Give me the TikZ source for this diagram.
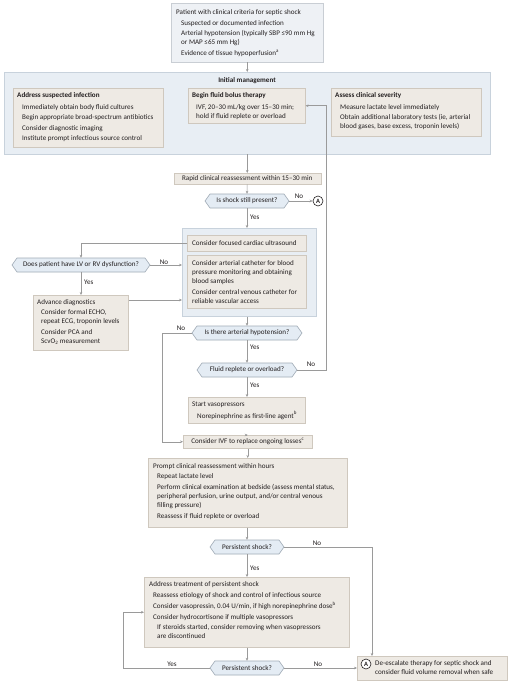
\documentclass[tikz,border=0pt]{standalone}
\usepackage{fontspec}
\setmainfont{Carlito}
\usetikzlibrary{arrows.meta,calc}
\definecolor{lineg}{HTML}{9A9A9A}
\definecolor{beige}{HTML}{EEEAE4}
\definecolor{beigeb}{HTML}{CFC8BE}
\definecolor{bluebg}{HTML}{E8EEF4}
\definecolor{blueb}{HTML}{C8D2DC}
\definecolor{topbg}{HTML}{EEF1F5}
\definecolor{topb}{HTML}{C9CED4}
\definecolor{hexbg}{HTML}{E4ECF4}
\definecolor{hexb}{HTML}{A0ABB6}
\definecolor{txtc}{HTML}{231F20}
\newcommand\fs{\fontsize{7.1}{9.2}\selectfont}
\tikzset{
  bx/.style={draw=beigeb, fill=beige, line width=0.5pt, rectangle, inner sep=0pt, anchor=north west, font=\fs, text=txtc},
  topbox/.style={bx, draw=topb, fill=topbg},
  bluebox/.style={bx, draw=blueb, fill=bluebg},
  txt/.style={anchor=north west, inner sep=0pt, align=left, font=\fs, text=txtc},
  conn/.style={draw=lineg, line width=0.5pt},
  arr/.style={conn, -{Stealth[length=3pt,width=2.6pt]}},
  lbl/.style={font=\fs, text=txtc, inner sep=0pt},
  hexs/.style={draw=hexb, fill=hexbg, line width=0.6pt},
  hexn/.style={inner sep=0pt, minimum height=14pt, font=\fs, text=txtc},
  circ/.style={circle, draw=txtc, fill=white, line width=0.6pt, inner sep=0pt, minimum size=10pt, font=\fontsize{6.5}{7}\selectfont\bfseries, text=txtc}
}
\newcommand\hexa[5]{%
  \path[hexs] ({#2-#4/2},#3) -- ({#2-#4/2+5},{#3-7}) -- ({#2+#4/2-5},{#3-7}) -- ({#2+#4/2},#3) -- ({#2+#4/2-5},{#3+7}) -- ({#2-#4/2+5},{#3+7}) -- cycle;
  \node[hexn, minimum width={#4-10}] (#1) at (#2,#3) {#5};
  \coordinate (#1W) at ({#2-#4/2},#3);
  \coordinate (#1E) at ({#2+#4/2},#3);
}
\begin{document}
\begin{tikzpicture}[x=1pt,y=-1pt]
\useasboundingbox[fill=white] (0,0) rectangle (512,687);

% top box
\node[topbox, minimum width=152pt, minimum height=59pt] (top) at (171,3) {};
\node[txt] (toptx) at (176,9.5) {Patient with clinical criteria for septic shock\\[1.3pt]
\hspace*{5pt}Suspected or documented infection\\[1.3pt]
\hspace*{5pt}Arterial hypotension (typically SBP ≤90 mm Hg\\
\hspace*{5pt}or MAP ≤65 mm Hg)\\[1.3pt]
\hspace*{5pt}Evidence of tissue hypoperfusion\textsuperscript{a}};

% initial management
\node[bluebox, minimum width=486pt, minimum height=82pt] (init) at (4,72) {};
\node[lbl, font=\fs\bfseries] (inittl) at (247,81) {Initial management};
\node[bx, minimum width=150pt, minimum height=59pt] (inf) at (13,88) {};
\node[txt] (inftx) at (17,92.5) {\textbf{Address suspected infection}\\[2.5pt]
\hspace*{5pt}Immediately obtain body fluid cultures\\[1.2pt]
\hspace*{5pt}Begin appropriate broad-spectrum antibiotics\\[1.2pt]
\hspace*{5pt}Consider diagnostic imaging\\[1.2pt]
\hspace*{5pt}Institute prompt infectious source control};
\node[bx, minimum width=117pt, minimum height=35pt] (flu) at (188,88) {};
\node[txt] (flutx) at (192,92.5) {\textbf{Begin fluid bolus therapy}\\[2.5pt]
\hspace*{4pt}IVF, 20--30 mL/kg over 15--30 min;\\
\hspace*{4pt}hold if fluid replete or overload};
\node[bx, minimum width=150pt, minimum height=48pt] (sev) at (331,88) {};
\node[txt] (sevtx) at (335,92.5) {\textbf{Assess clinical severity}\\[2.5pt]
\hspace*{5pt}Measure lactate level immediately\\[1.2pt]
\hspace*{5pt}Obtain additional laboratory tests (ie, arterial\\
\hspace*{5pt}blood gases, base excess, troponin levels)};

% rapid
\node[bx, minimum width=147pt, minimum height=11pt] (rap) at (173.5,173) {Rapid clinical reassessment within 15--30 min};
\hexa{h1}{247}{201}{84}{Is shock still present?}
\node[circ] (A1) at (318,201) {A};

% cardiac group
\node[bluebox, minimum width=134pt, minimum height=88pt] (cardg) at (182,228) {};
\node[bx, minimum width=119pt, minimum height=16pt] (cus) at (187,235) {};
\node[txt] (custx) at (192,240) {Consider focused cardiac ultrasound};
\node[bx, minimum width=119pt, minimum height=53pt] (cath) at (187,255) {};
\node[txt] (cathtx) at (192,260) {Consider arterial catheter for blood\\
pressure monitoring and obtaining\\
blood samples\\[1.6pt]
Consider central venous catheter for\\
reliable vascular access};

\hexa{h2}{81}{265}{138}{Does patient have LV or RV dysfunction?}
\node[bx, minimum width=95pt, minimum height=55pt] (adv) at (33,295) {};
\node[txt] (advtx) at (37,299) {Advance diagnostics\\[0.8pt]
\hspace*{4pt}Consider formal ECHO,\\
\hspace*{4pt}repeat ECG, troponin levels\\[1.6pt]
\hspace*{4pt}Consider PCA and\\
\hspace*{4pt}ScvO\textsubscript{2} measurement};

\hexa{h3}{247}{333}{110}{Is there arterial hypotension?}
\hexa{h4}{247}{370}{100}{Fluid replete or overload?}

\node[bx, minimum width=117pt, minimum height=26pt] (vaso) at (188,397) {};
\node[txt] (vasotx) at (192,401.5) {Start vasopressors\\[2.5pt]
\hspace*{5pt}Norepinephrine as first-line agent\textsuperscript{b}};
\node[bx, minimum width=129pt, minimum height=13pt] (ivf) at (183,435) {Consider IVF to replace ongoing losses\textsuperscript{c}};

\node[bx, minimum width=199pt, minimum height=69pt] (prompt) at (148,458) {};
\node[txt] (prompttx) at (153,463.5) {Prompt clinical reassessment within hours\\[0.8pt]
\hspace*{4pt}Repeat lactate level\\[1.6pt]
\hspace*{4pt}Perform clinical examination at bedside (assess mental status,\\
\hspace*{4pt}peripheral perfusion, urine output, and/or central venous\\
\hspace*{4pt}filling pressure)\\[1.6pt]
\hspace*{4pt}Reassess if fluid replete or overload};

\hexa{h5}{247}{547}{74}{Persistent shock?}

\node[bx, minimum width=205pt, minimum height=70pt] (addr) at (144,577) {};
\node[txt] (addrtx) at (149,581.5) {Address treatment of persistent shock\\[1.6pt]
\hspace*{4pt}Reassess etiology of shock and control of infectious source\\[1.6pt]
\hspace*{4pt}Consider vasopressin, 0.04 U/min, if high norepinephrine dose\textsuperscript{b}\\[1.6pt]
\hspace*{4pt}Consider hydrocortisone if multiple vasopressors\\[0.8pt]
\hspace*{8pt}If steroids started, consider removing when vasopressors\\
\hspace*{8pt}are discontinued};

\hexa{h6}{247}{668}{74}{Persistent shock?}

\node[bx, minimum width=150pt, minimum height=24pt] (deesc) at (357,656) {};
\node[circ] (A2) at (366,664) {A};
\node[txt] (deesctx) at (375,660.5) {De-escalate therapy for septic shock and\\
consider fluid volume removal when safe};

% connectors
\draw[arr] (top.south) -- (top.south |- init.north);
\draw[arr] (init.south) -- (init.south |- rap.north);
\draw[arr] (rap.south) -- (h1.north);
\draw[arr] (h1E) -- (A1);
\node[lbl] (n1) at (299,196) {No};
\draw[arr] (h1.south) -- (h1.south |- cardg.north);
\node[lbl, anchor=west] (y1) at (250,217) {Yes};
\draw[arr] (cus.west) -| (h2.north);
\draw[arr] (h2E) -- (h2E -| cardg.west);
\node[lbl] (n2) at (164,262) {No};
\draw[arr] (h2.south) -- (h2.south |- adv.north);
\node[lbl, anchor=west] (y2) at (84,282) {Yes};
\draw[arr] ([yshift=-5pt]adv.north east) -- ([yshift=-5pt]adv.north east -| cardg.west);
\draw[arr] (h3.north |- cardg.south) -- (h3.north);
\draw[arr] (h3W) -- ++(-30,0) |- (ivf.west);
\node[lbl] (n3) at (181,328) {No};
\draw[arr] (h3.south) -- (h4.north);
\node[lbl, anchor=west] (y3) at (250,347) {Yes};
\draw[arr] (h4E) -| ([xshift=21pt]flu.east) -- (flu.east);
\node[lbl] (n4) at (311,364) {No};
\draw[arr] (h4.south) -- (h4.south |- vaso.north);
\node[lbl, anchor=west] (y4) at (250,385) {Yes};
\draw[arr] (ivf.north -| vaso.south) -- (ivf.north) ;
\draw[arr] (ivf.south) -- (ivf.south |- prompt.north);
\draw[arr] (h5.north |- prompt.south) -- (h5.north);
\draw[arr] (h5E) -| ([xshift=15pt]deesc.north west);
\node[lbl] (n5) at (317,543) {No};
\draw[arr] (h5.south) -- (h5.south |- addr.north);
\node[lbl, anchor=west] (y5) at (250,568) {Yes};
\draw[arr] (h6.north |- addr.south) -- (h6.north);
\draw[arr] (h6E) -- (h6E -| deesc.west);
\node[lbl] (n6) at (318,664) {No};
\draw[arr] (h6W) -- ++(-87,0) |- (addr.west);
\node[lbl] (y6) at (172,664) {Yes};
\end{tikzpicture}
\end{document}
